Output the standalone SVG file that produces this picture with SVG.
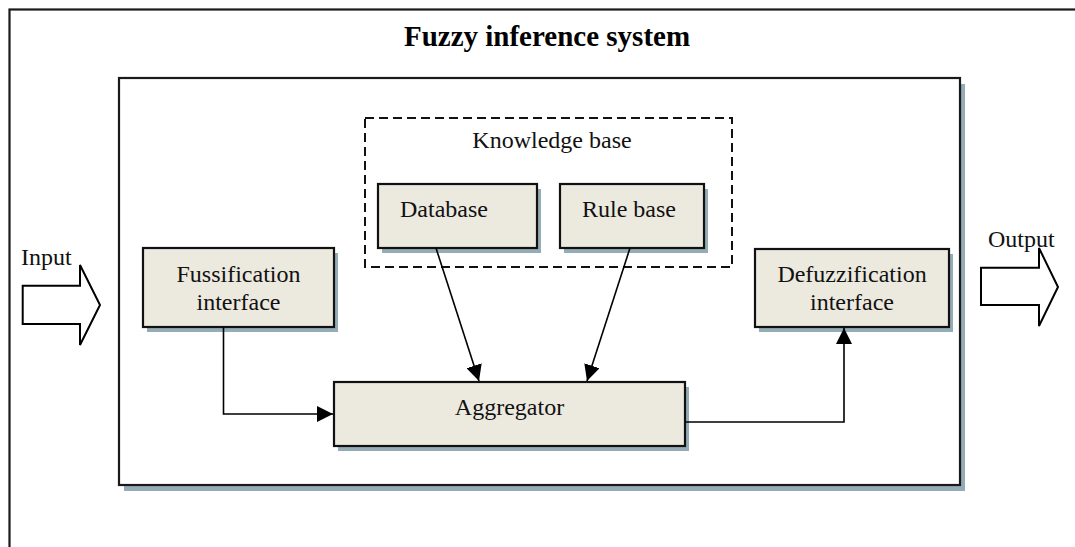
<svg xmlns="http://www.w3.org/2000/svg" width="1075" height="547" viewBox="0 0 1075 547">
<defs>
<style>
.t{font-family:"Liberation Serif","Times New Roman",serif;font-size:24px;fill:#111}
.box{fill:#ECE9DF;stroke:#111;stroke-width:2.2}
.sh{fill:#93ACB5}
.ln{fill:none;stroke:#000;stroke-width:1.6}
.blk{fill:#fff;stroke:#000;stroke-width:2}
</style>
<marker id="ah" viewBox="0 0 16 16" refX="16" refY="8" markerWidth="16" markerHeight="16" markerUnits="userSpaceOnUse" orient="auto">
<path d="M0,0 L16,8 L0,16 Z" fill="#000"/>
</marker>
</defs>
<rect width="1075" height="547" fill="#fff"/>
<g id="outer-frame">
<rect x="9.5" y="9.5" width="1100" height="600" fill="none" stroke="#1a1a1a" stroke-width="2.2"/>
<text x="547" y="46" text-anchor="middle" style="font-family:'Liberation Serif','Times New Roman',serif;font-size:29px;font-weight:bold;fill:#000">Fuzzy inference system</text>
</g>
<g id="inner-frame">
<rect x="124" y="84" width="841" height="407" class="sh"/>
<rect x="119" y="78" width="841" height="407" fill="#fff" stroke="#1a1a1a" stroke-width="2.2"/>
</g>
<g id="knowledge-base">
<rect x="365" y="118" width="367" height="149" fill="none" stroke="#111" stroke-width="2" stroke-dasharray="9 5"/>
<text x="552" y="148" text-anchor="middle" class="t">Knowledge base</text>
</g>
<g id="database">
<rect x="382" y="189" width="159" height="64" class="sh"/>
<rect x="378" y="184" width="159" height="64" class="box"/>
<text x="400" y="217" class="t">Database</text>
</g>
<g id="rule-base">
<rect x="564" y="189" width="144" height="64" class="sh"/>
<rect x="560" y="184" width="144" height="64" class="box"/>
<text x="582" y="217" class="t">Rule base</text>
</g>
<g id="fussification">
<rect x="147" y="253" width="191" height="79" class="sh"/>
<rect x="143" y="248" width="191" height="79" class="box"/>
<text x="238.5" y="282" text-anchor="middle" class="t">Fussification</text>
<text x="238.5" y="310" text-anchor="middle" class="t">interface</text>
</g>
<g id="defuzzification">
<rect x="759" y="254" width="194" height="78" class="sh"/>
<rect x="755" y="249" width="194" height="78" class="box"/>
<text x="852" y="282" text-anchor="middle" class="t">Defuzzification</text>
<text x="852" y="310" text-anchor="middle" class="t">interface</text>
</g>
<g id="aggregator">
<rect x="338" y="387" width="351" height="64" class="sh"/>
<rect x="334" y="382" width="351" height="64" class="box"/>
<text x="509.5" y="415" text-anchor="middle" class="t">Aggregator</text>
</g>
<g id="input">
<path d="M22.7,285.7 H80 V265 L100,305 L80,345 V324 H22.7 Z" class="blk"/>
<text x="21" y="265" class="t">Input</text>
</g>
<g id="output">
<path d="M981,267.7 H1039 V248 L1058,287 L1039,326 V305 H981 Z" class="blk"/>
<text x="988" y="247" class="t">Output</text>
</g>
<g id="connectors">
<path d="M223.5,327 V414 H333" class="ln" marker-end="url(#ah)"/>
<path d="M436,248 L479,381" class="ln" marker-end="url(#ah)"/>
<path d="M630,248 L587,381" class="ln" marker-end="url(#ah)"/>
<path d="M685,422 H844 V328" class="ln" marker-end="url(#ah)"/>
</g>
</svg>
